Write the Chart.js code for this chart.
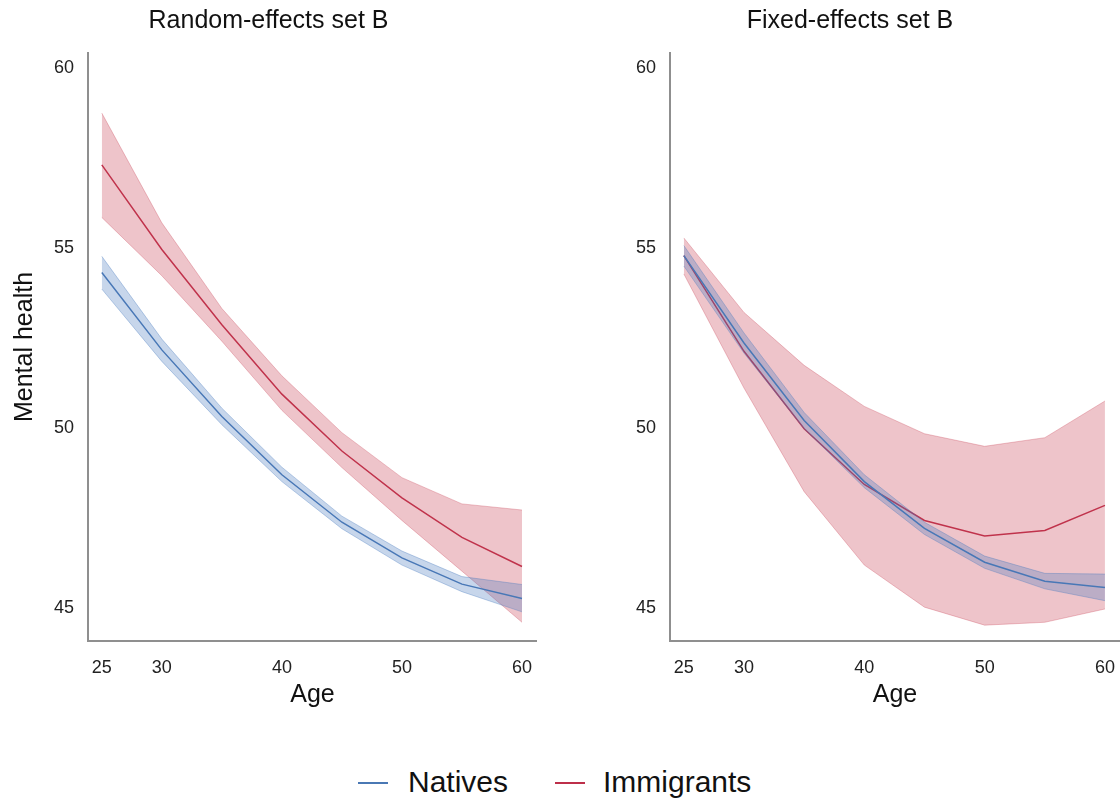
<!DOCTYPE html>
<html>
<head>
<meta charset="utf-8">
<script src="https://cdn.jsdelivr.net/npm/chart.js@4"></script>
<style>
    body { margin: 0; background: #fff; font-family: "Liberation Sans", Arial, sans-serif; }
    #wrap { position: relative; width: 1120px; height: 800px; overflow: hidden; }
    .panel { position: absolute; top: 0; height: 720px; }
    #legend { position: absolute; top: 764px; left: 0; width: 1120px; height: 40px; font-size: 30px; color: #111; }
    .key { position: absolute; top: 18px; width: 30px; height: 2px; }
    .lab { position: absolute; top: 0; line-height: 36px; }
</style>
</head>
<body>
<div id="wrap">
    <div class="panel" style="left:0;width:537px"><canvas id="reChart" width="537" height="720"></canvas></div>
    <div class="panel" style="left:580px;width:540px"><canvas id="feChart" width="540" height="720"></canvas></div>
    <div id="legend">
        <div class="key" style="left:358px;background:#4a78b4"></div>
        <div class="lab" style="left:408px">Natives</div>
        <div class="key" style="left:555px;background:#bd2f4a"></div>
        <div class="lab" style="left:603px">Immigrants</div>
    </div>
</div>
<script>
const ages = [25, 30, 35, 40, 45, 50, 55, 60];
const xTicks = [25, 30, 40, 50, 60];
const yTicks = [45, 50, 55, 60];

// Random-effects set B
const reNatives      = [54.32, 52.17, 50.32, 48.70, 47.38, 46.39, 45.66, 45.26];
const reNativesLo    = [53.86, 51.85, 50.09, 48.51, 47.20, 46.19, 45.45, 44.89];
const reNativesHi    = [54.77, 52.47, 50.55, 48.91, 47.55, 46.58, 45.87, 45.65];
const reImmigrants   = [57.31, 54.96, 52.87, 50.94, 49.36, 48.06, 46.96, 46.15];
const reImmigrantsLo = [55.85, 54.23, 52.41, 50.49, 48.90, 47.43, 46.02, 44.60];
const reImmigrantsHi = [58.75, 55.70, 53.32, 51.45, 49.87, 48.62, 47.89, 47.72];

// Fixed-effects set B
const feNatives      = [54.79, 52.36, 50.21, 48.51, 47.21, 46.27, 45.74, 45.57];
const feNativesLo    = [54.50, 52.08, 49.98, 48.34, 47.04, 46.10, 45.53, 45.20];
const feNativesHi    = [55.07, 52.64, 50.43, 48.70, 47.38, 46.44, 45.96, 45.94];
const feImmigrants   = [54.79, 52.13, 49.98, 48.43, 47.43, 47.00, 47.15, 47.85];
const feImmigrantsLo = [54.28, 51.11, 48.23, 46.19, 45.02, 44.52, 44.60, 44.97];
const feImmigrantsHi = [55.28, 53.21, 51.74, 50.60, 49.84, 49.49, 49.73, 50.75];

const blueLine = '#4a78b4';
const blueFill = 'rgba(70, 120, 190, 0.3)';
const redLine = '#bd2f4a';
const redFill = 'rgba(200, 60, 80, 0.3)';
const fontFamily = '"Liberation Sans", Arial, sans-serif';

function pts(values) {
    return ages.map((a, i) => ({ x: a, y: values[i] }));
}

function bandSets(lo, hi, mid, line, fill, edge) {
    return [
        { data: pts(lo), borderColor: edge, borderWidth: 1, pointRadius: 0, fill: false },
        { data: pts(hi), borderColor: edge, borderWidth: 1, pointRadius: 0, backgroundColor: fill, fill: '-1' },
        { data: pts(mid), borderColor: line, borderWidth: 1.5, pointRadius: 0, fill: false }
    ];
}

function makePanel(id, title, yTitle, axisWidth, sets) {
    const ctx = document.getElementById(id).getContext('2d');
    new Chart(ctx, {
        type: 'line',
        data: {
            datasets: [
                ...bandSets(sets.nLo, sets.nHi, sets.n, blueLine, blueFill, 'rgba(70, 120, 190, 0.35)'),
                ...bandSets(sets.iLo, sets.iHi, sets.i, redLine, redFill, 'rgba(200, 60, 80, 0.3)')
            ]
        },
        options: {
            responsive: false,
            animation: false,
            layout: { padding: 0 },
            elements: { line: { tension: 0 } },
            scales: {
                x: {
                    type: 'linear',
                    min: 23.85,
                    max: 61.25,
                    afterBuildTicks: scale => { scale.ticks = xTicks.map(v => ({ value: v })); },
                    afterFit: scale => {
                        scale.height = 79;
                        scale.paddingLeft = 0;
                        scale.paddingRight = 0;
                    },
                    grid: { display: false, drawTicks: false },
                    border: { display: true, color: '#8f8f8f', width: 2 },
                    ticks: { padding: 16, color: '#222', font: { family: fontFamily, size: 18 } },
                    title: {
                        display: true,
                        text: 'Age',
                        color: '#111',
                        padding: { top: 0, bottom: 10 },
                        font: { family: fontFamily, size: 25 }
                    }
                },
                y: {
                    min: 44.08,
                    max: 60.42,
                    afterBuildTicks: scale => { scale.ticks = yTicks.map(v => ({ value: v })); },
                    afterFit: scale => {
                        scale.width = axisWidth;
                        scale.paddingTop = 0;
                        scale.paddingBottom = 0;
                    },
                    grid: { display: false, drawTicks: false },
                    border: { display: true, color: '#8f8f8f', width: 2 },
                    ticks: { padding: 14, color: '#222', font: { family: fontFamily, size: 18 } },
                    title: {
                        display: yTitle !== '',
                        text: yTitle,
                        color: '#111',
                        padding: { top: 10, bottom: 0 },
                        font: { family: fontFamily, size: 25 }
                    }
                }
            },
            plugins: {
                legend: { display: false },
                tooltip: { enabled: false },
                title: {
                    display: true,
                    text: title,
                    color: '#111',
                    padding: { top: 6, bottom: 17 },
                    font: { family: fontFamily, size: 25, weight: 'normal' }
                }
            }
        }
    });
}

makePanel('reChart', 'Random-effects set B', 'Mental health', 88, {
    n: reNatives, nLo: reNativesLo, nHi: reNativesHi,
    i: reImmigrants, iLo: reImmigrantsLo, iHi: reImmigrantsHi
});

makePanel('feChart', 'Fixed-effects set B', '', 90, {
    n: feNatives, nLo: feNativesLo, nHi: feNativesHi,
    i: feImmigrants, iLo: feImmigrantsLo, iHi: feImmigrantsHi
});
</script>
</body>
</html>
